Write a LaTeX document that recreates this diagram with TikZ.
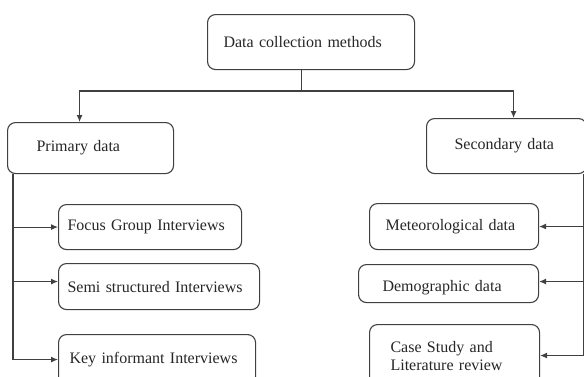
\documentclass[tikz,border=0pt]{standalone}
\usepackage{fontspec}
\setmainfont{Liberation Serif}
\usepackage{tikz}
\usetikzlibrary{arrows.meta}

\begin{document}
\begin{tikzpicture}[
  x=1pt, y=-1pt,
  >={Latex[length=7pt, width=6pt]},
  font=\fontsize{16}{18}\selectfont,
  link/.style={draw=black!75, line width=1.1pt},
  box/.style={draw=black!75, line width=1.1pt, rounded corners=8pt,
    align=left, anchor=north west, inner ysep=0pt, text=black!85},
  ]
  \useasboundingbox (0, 0) rectangle (584, 376);

  % Top level
  \node[box, text width=175pt, inner xsep=16pt, minimum height=55pt]
    (top) at (207, 14) {Data collection methods};

  % Second level
  \node[box, text width=108pt, inner xsep=29pt, minimum height=51pt]
    (primary) at (7, 122) {Primary data};
  \node[box, text width=104pt, inner xsep=28pt, minimum height=55pt]
    (secondary) at (426, 118) {Secondary data};

  % Primary data methods
  \node[box, text width=165pt, inner xsep=9pt, minimum height=45pt]
    (focus) at (58, 204) {Focus Group Interviews};
  \node[box, text width=183pt, inner xsep=9pt, minimum height=46pt]
    (semi) at (58, 263) {Semi structured Interviews};
  \node[box, text width=175pt, inner xsep=11pt, minimum height=50pt]
    (key) at (58, 334) {Key informant Interviews};

  % Secondary data methods
  \node[box, text width=137pt, inner xsep=16pt, minimum height=46pt]
    (meteo) at (369, 203) {Meteorological data};
  \node[box, text width=132pt, inner xsep=24pt, minimum height=38pt,
    text height=20pt]
    (demo) at (358, 264) {Demographic data};
  \node[box, text width=128pt, inner xsep=21pt, minimum height=62pt]
    (casestudy) at (369, 324) {Case Study and\\Literature review};

  % Split below the top box
  \coordinate (topfoot) at ([xshift=-10pt]top.south);
  \coordinate (split) at (topfoot |- 0,91);
  \draw[link] (topfoot) -- (split);
  \draw[link, ->] (split) -| ([xshift=-11pt]primary.north);
  \draw[link, ->] (split) -| ([xshift=7pt]secondary.north);

  % Left branch
  \draw[link, ->] ([xshift=6pt]primary.south west) |- (focus.west);
  \draw[link, ->] ([xshift=6pt]primary.south west) |- ([yshift=5pt]semi.west);
  \draw[link, ->] ([xshift=6pt]primary.south west) |- (key.west);

  % Right branch
  \draw[link, ->] ([xshift=-4pt]secondary.south east) |- (meteo.east);
  \draw[link, ->] ([xshift=-4pt]secondary.south east) |- ([yshift=2pt]demo.east);
  \draw[link, ->] ([xshift=-4pt]secondary.south east) |- (casestudy.east);
\end{tikzpicture}
\end{document}
